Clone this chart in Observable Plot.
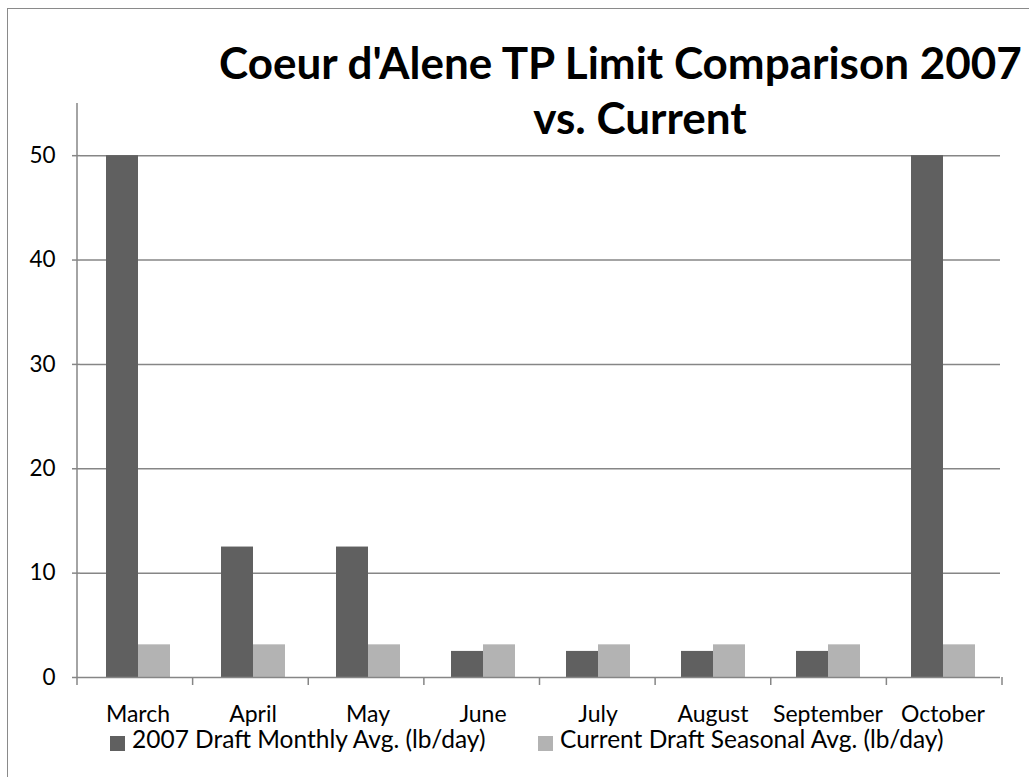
<!DOCTYPE html>
<html>
<head>
<meta charset="utf-8">
<script src="https://cdn.jsdelivr.net/npm/d3@7"></script>
<script src="https://cdn.jsdelivr.net/npm/@observablehq/plot@0.6"></script>
<style>
  html, body { margin: 0; padding: 0; background: #fff; }
  #wrap { position: relative; width: 1029px; height: 777px; overflow: hidden; background: #fff; font-family: Lato, "Open Sans", sans-serif; }
  #border { position: absolute; left: 7px; top: 8px; right: -10px; bottom: -10px; border-left: 1.5px solid #8a8a8a; border-top: 1.5px solid #8a8a8a; }
  .title { position: absolute; font-weight: bold; font-size: 44px; line-height: 1; white-space: nowrap; color: #000; }
  #chart { position: absolute; left: 0; top: 95px; }
  .leg-sw { position: absolute; width: 15px; height: 15px; }
  .leg-tx { position: absolute; font-size: 24.5px; line-height: 1; white-space: nowrap; color: #000; }
</style>
</head>
<body>
<div id="wrap">
  <div id="border"></div>
  <div id="chart"></div>
  <div class="title" id="t1" style="left:219px; top:40px;"></div>
  <div class="title" id="t2" style="left:640px; top:95px; transform: translateX(-50%);"></div>
  <div id="legend"></div>
</div>
<script>
// ---- data ----
const titleLines = ["Coeur d'Alene TP Limit Comparison 2007", "vs. Current"];
const months = ["March", "April", "May", "June", "July", "August", "September", "October"];
const seriesNames = ["2007 Draft Monthly Avg. (lb/day)", "Current Draft Seasonal Avg. (lb/day)"];
const seriesColors = ["#606060", "#b3b3b3"];
const draft2007 = [50, 12.5, 12.5, 2.5, 2.5, 2.5, 2.5, 50];
const currentDraft = [3.13, 3.13, 3.13, 3.13, 3.13, 3.13, 3.13, 3.13];
const yTicks = [0, 10, 20, 30, 40, 50];
const yMax = 55;

// ---- build table ----
const rows = [];
months.forEach((m, i) => {
  rows.push({month: m, series: seriesNames[0], value: draft2007[i]});
  rows.push({month: m, series: seriesNames[1], value: currentDraft[i]});
});

document.getElementById("t1").textContent = titleLines[0];
document.getElementById("t2").textContent = titleLines[1];

const gridColor = "#868686";

const plot = Plot.plot({
  width: 1029,
  height: 630,
  marginTop: 8,
  marginBottom: 48,
  marginLeft: 77,
  marginRight: 27,
  style: {fontFamily: "Lato, 'Open Sans', sans-serif", fontSize: "22px", color: "#000", background: "transparent", overflow: "visible"},
  fx: {domain: months, padding: 0, label: null},
  x: {domain: seriesNames, paddingInner: 0, paddingOuter: 0.75, axis: null},
  y: {domain: [0, yMax], axis: null},
  color: {domain: seriesNames, range: seriesColors},
  marks: [
    Plot.ruleY(yTicks.filter(d => d > 0), {stroke: gridColor, strokeWidth: 1.5}),
    Plot.barY(rows, {fx: "month", x: "series", y: "value", fill: "series"}),
    Plot.ruleY([0], {stroke: gridColor, strokeWidth: 1.5}),
    Plot.axisY({ticks: yTicks, tickSize: 8, tickPadding: 17, fontSize: 22.5, stroke: gridColor, strokeWidth: 1.5, fill: "#000", label: null}),
    Plot.axisFx({anchor: "bottom", tickSize: 0, tickPadding: 28, fontSize: 23, label: null, fill: "#000"})
  ]
});
document.getElementById("chart").appendChild(plot);

// y-axis line and category boundary ticks, from the plot's own scales
const svgNode = plot.tagName.toLowerCase() === "svg" ? plot : plot.querySelector("svg");
const svg = d3.select(svgNode);
const fxS = plot.scale("fx");
const yS = plot.scale("y");
const x0 = fxS.range[0];
const step = (fxS.range[1] - fxS.range[0]) / fxS.domain.length;
const yZero = yS.apply(0);
const yTop = yS.apply(yMax);
svg.append("line").attr("x1", x0).attr("x2", x0).attr("y1", yTop).attr("y2", yZero + 8)
  .attr("stroke", gridColor).attr("stroke-width", 1.5);
for (let i = 1; i <= fxS.domain.length; i++) {
  const xx = x0 + i * step;
  svg.append("line").attr("x1", xx).attr("x2", xx).attr("y1", yZero).attr("y2", yZero + 8)
    .attr("stroke", gridColor).attr("stroke-width", 1.5);
}

// legend
const legend = document.getElementById("legend");
const legX = [110, 538];
seriesNames.forEach((name, i) => {
  const sw = document.createElement("div");
  sw.className = "leg-sw";
  sw.style.left = legX[i] + "px";
  sw.style.top = "736px";
  sw.style.background = seriesColors[i];
  legend.appendChild(sw);
  const tx = document.createElement("div");
  tx.className = "leg-tx";
  tx.style.left = (legX[i] + 22) + "px";
  tx.style.top = "727px";
  tx.textContent = name;
  legend.appendChild(tx);
});
</script>
</body>
</html>
